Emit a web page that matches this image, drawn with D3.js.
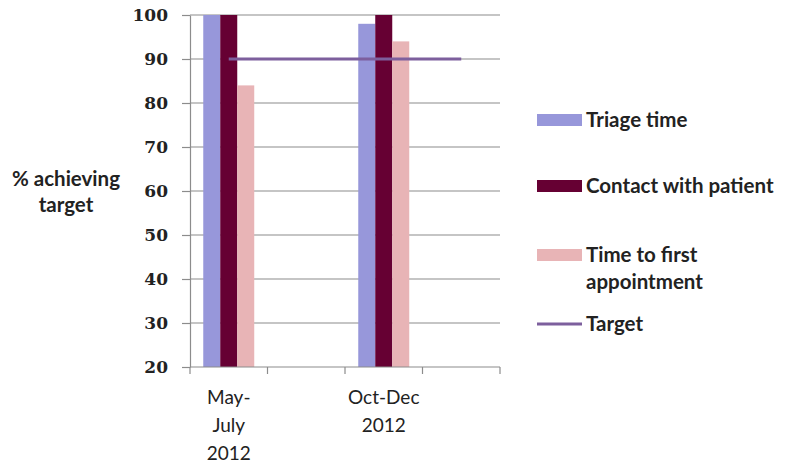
<!DOCTYPE html>
<html>
<head>
<meta charset="utf-8">
<script src="https://cdn.jsdelivr.net/npm/d3@7"></script>
<style>
  html, body { margin: 0; padding: 0; background: #fff; }
  svg { display: block; }
</style>
</head>
<body>
<svg id="chart" width="787" height="463"></svg>
<script>
// Quarterly results: share of patients meeting each target
const categories = ["May-July 2012", "gap1", "Oct-Dec 2012", "gap2"];
const categoryLabels = [["May-", "July", "2012"], [], ["Oct-Dec", "2012"], []];
const seriesNames = ["Triage time", "Contact with patient", "Time to first appointment"];
const triageTime = [100, null, 98, null];
const contactWithPatient = [100, null, 100, null];
const timeToFirstAppointment = [84, null, 94, null];
const targetValues = [90, 90, 90, 90];
const yTicks = [20, 30, 40, 50, 60, 70, 80, 90, 100];

const colors = ["#9797da", "#660033", "#e8b4b6"];
const targetColor = "#7d5f9d";

const svg = d3.select("#chart");
const plot = { left: 190, right: 500, top: 15, bottom: 367 };

const x = d3.scaleBand().domain(categories).range([plot.left, plot.right]).paddingInner(0).paddingOuter(0);
const y = d3.scaleLinear().domain([20, 100]).range([plot.bottom, plot.top]);
const xs = d3.scaleBand().domain(seriesNames).range([0, x.bandwidth()]).paddingInner(0).paddingOuter(0.78);

// gridlines
svg.append("g")
  .selectAll("line")
  .data(yTicks.filter(d => d !== 20))
  .join("line")
  .attr("x1", plot.left).attr("x2", plot.right)
  .attr("y1", d => y(d)).attr("y2", d => y(d))
  .attr("stroke", "#8c8c8c").attr("stroke-width", 1.2);

// bars
const allSeries = [triageTime, contactWithPatient, timeToFirstAppointment];
allSeries.forEach((vals, i) => {
  svg.append("g")
    .selectAll("rect")
    .data(vals.map((v, j) => ({ v, c: categories[j] })).filter(d => d.v != null))
    .join("rect")
    .attr("x", d => x(d.c) + xs(seriesNames[i]))
    .attr("width", xs.bandwidth())
    .attr("y", d => y(d.v))
    .attr("height", d => y(20) - y(d.v))
    .attr("fill", colors[i]);
});

// target line
const line = d3.line().x((d, i) => x(categories[i]) + x.bandwidth() / 2).y(d => y(d));
svg.append("path")
  .datum(targetValues)
  .attr("d", line)
  .attr("fill", "none")
  .attr("stroke", targetColor)
  .attr("stroke-width", 3);

// y axis
const yAxis = svg.append("g")
  .attr("transform", `translate(${plot.left},0)`)
  .call(d3.axisLeft(y).tickValues(yTicks).tickSize(8).tickPadding(14).tickSizeOuter(0));
yAxis.select(".domain").attr("stroke", "#8c8c8c").attr("stroke-width", 1.2);
yAxis.selectAll(".tick line").attr("stroke", "#8c8c8c").attr("stroke-width", 1.2);
yAxis.selectAll(".tick text")
  .attr("fill", "#222")
  .style("font-family", "'DejaVu Serif', serif")
  .style("font-weight", "bold")
  .style("font-size", "17px");

// x axis
const xAxis = svg.append("g")
  .attr("transform", `translate(0,${plot.bottom})`);
xAxis.append("line")
  .attr("x1", plot.left).attr("x2", plot.right)
  .attr("stroke", "#8c8c8c").attr("stroke-width", 1.2);
const edges = categories.map(c => x(c)).concat([plot.right]);
xAxis.selectAll("line.tk")
  .data(edges)
  .join("line")
  .attr("class", "tk")
  .attr("x1", d => d).attr("x2", d => d)
  .attr("y1", 0).attr("y2", 7)
  .attr("stroke", "#8c8c8c").attr("stroke-width", 1.2);
categories.forEach((c, i) => {
  const t = xAxis.append("text")
    .attr("x", x(c) + x.bandwidth() / 2)
    .attr("text-anchor", "middle")
    .attr("fill", "#222")
    .style("font-family", "Lato, sans-serif")
    .style("font-size", "19px");
  categoryLabels[i].forEach((s, k) => {
    t.append("tspan").attr("x", x(c) + x.bandwidth() / 2).attr("y", 37 + k * 28).text(s);
  });
});

// y axis title
const yt = svg.append("text")
  .attr("text-anchor", "middle")
  .attr("fill", "#222")
  .style("font-family", "Lato, sans-serif")
  .style("font-weight", "bold")
  .style("font-size", "20.5px");
yt.append("tspan").attr("x", 66).attr("y", 186).text("% achieving");
yt.append("tspan").attr("x", 66).attr("y", 212).text("target");

// legend
const legend = svg.append("g");
const legendRows = [
  { lines: ["Triage time"], y: 120, kind: "rect", color: colors[0] },
  { lines: ["Contact with patient"], y: 186, kind: "rect", color: colors[1] },
  { lines: ["Time to first", "appointment"], y: 255, kind: "rect", color: colors[2] },
  { lines: ["Target"], y: 324, kind: "line", color: targetColor }
];
legendRows.forEach(r => {
  if (r.kind === "rect") {
    legend.append("rect").attr("x", 537).attr("y", r.y - 6).attr("width", 45).attr("height", 12).attr("fill", r.color);
  } else {
    legend.append("line").attr("x1", 537).attr("x2", 582).attr("y1", r.y).attr("y2", r.y)
      .attr("stroke", r.color).attr("stroke-width", 3);
  }
  const t = legend.append("text")
    .attr("fill", "#222")
    .style("font-family", "Lato, sans-serif")
    .style("font-weight", "bold")
    .style("font-size", "20.5px");
  r.lines.forEach((s, k) => {
    t.append("tspan").attr("x", 586).attr("y", r.y + 7 + k * 27).text(s);
  });
});
</script>
</body>
</html>
